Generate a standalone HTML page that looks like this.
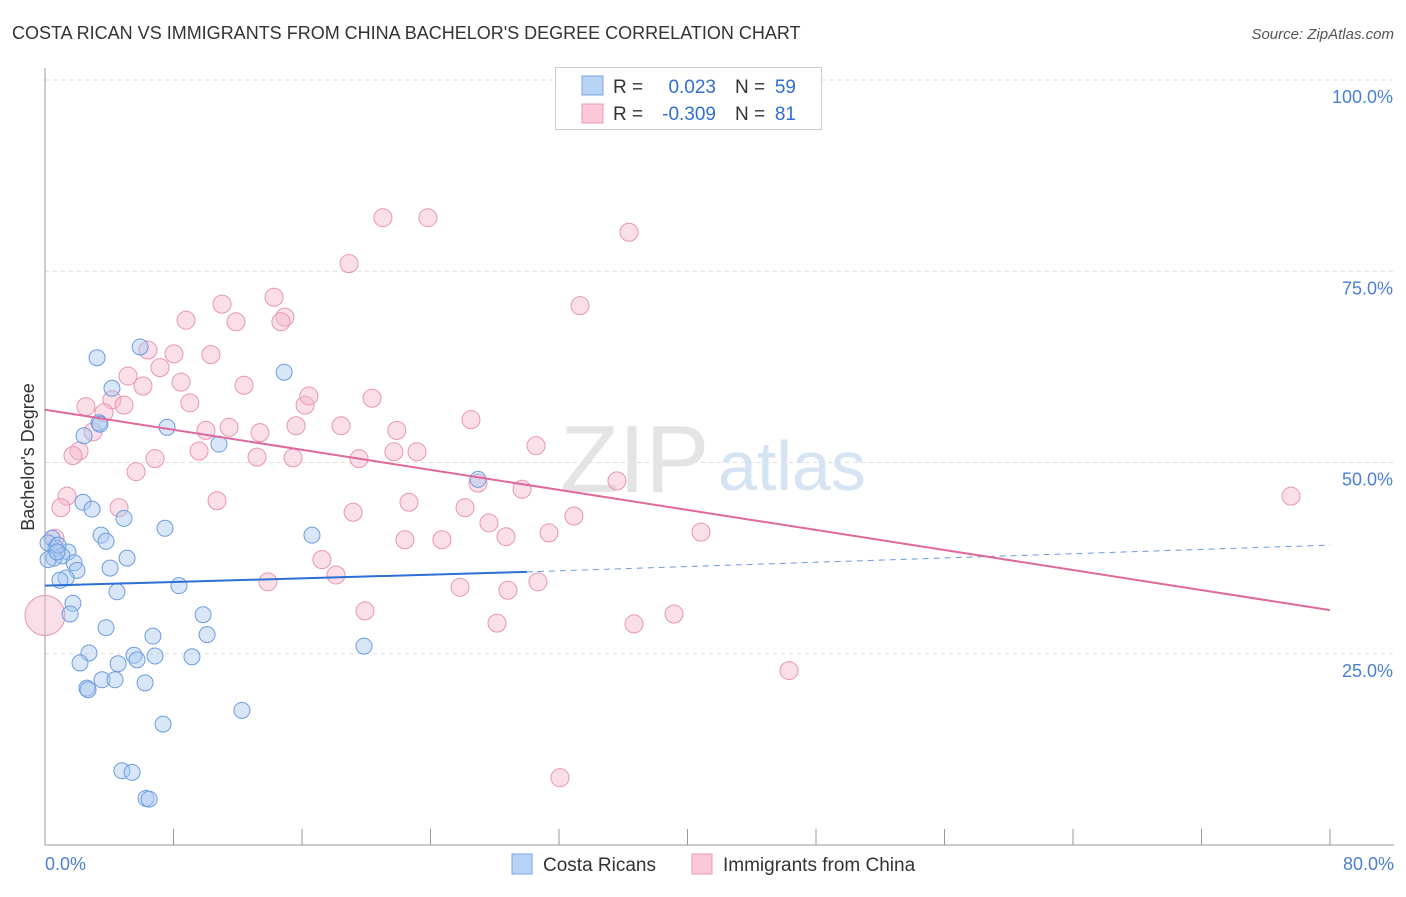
<!DOCTYPE html>
<html><head><meta charset="utf-8"><style>
body{margin:0;background:#fff;font-family:"Liberation Sans",sans-serif;}
svg text{font-family:"Liberation Sans",sans-serif;}
</style></head><body>
<svg id="chart" width="1406" height="892" xmlns="http://www.w3.org/2000/svg">
<text x="12" y="39" font-size="18" fill="#333">COSTA RICAN VS IMMIGRANTS FROM CHINA BACHELOR'S DEGREE CORRELATION CHART</text>
<text x="1394" y="39" font-size="15" fill="#555" font-style="italic" text-anchor="end">Source: ZipAtlas.com</text>
<g id="grid"></g>
<text x="560" y="492" font-size="96" fill="#e4e4e4" font-family="Liberation Serif">ZIP</text>
<text x="718" y="490" font-size="70" fill="#d6e3f3">atlas</text>
<line x1="45" y1="68" x2="45" y2="845" stroke="#999"/>
<line x1="45" y1="845" x2="1394" y2="845" stroke="#999"/>
<g id="xticks"></g>
<text x="45" y="870" font-size="18" fill="#4a7fd4">0.0%</text>
<text x="1394" y="870" font-size="18" fill="#4a7fd4" text-anchor="end">80.0%</text>
<text transform="translate(34,457) rotate(-90)" font-size="18" fill="#333" text-anchor="middle">Bachelor's Degree</text>
<g id="pts"></g>
<g id="lines"></g>
<g>
<rect x="555.5" y="67.5" width="266" height="62" fill="#fff" stroke="#ccc"/>
<rect x="582" y="76" width="21" height="19" fill="#b8d3f5" stroke="#7aa6e4"/>
<rect x="582" y="104" width="21" height="19" fill="#fbc8d7" stroke="#ee9ab5"/>
<text x="613" y="93" font-size="19" fill="#333">R =</text>
<text x="716" y="93" font-size="19" fill="#2f6fd2" text-anchor="end">0.023</text>
<text x="735" y="93" font-size="19" fill="#333">N =</text>
<text x="796" y="93" font-size="19" fill="#2f6fd2" text-anchor="end">59</text>
<text x="613" y="120" font-size="19" fill="#333">R =</text>
<text x="716" y="120" font-size="19" fill="#2f6fd2" text-anchor="end">-0.309</text>
<text x="735" y="120" font-size="19" fill="#333">N =</text>
<text x="796" y="120" font-size="19" fill="#2f6fd2" text-anchor="end">81</text>
</g>
<g>
<rect x="512" y="854" width="20" height="20" fill="#b8d3f5" stroke="#7aa6e4"/>
<text x="543" y="871" font-size="19" fill="#333">Costa Ricans</text>
<rect x="692" y="854" width="20" height="20" fill="#fbc8d7" stroke="#ee9ab5"/>
<text x="723" y="871" font-size="19" fill="#333">Immigrants from China</text>
</g>
</svg>
<script>
const yTicks=[25,50,75,100];
const xTickVals=[0,8,16,24,32,40,48,56,64,72,80];
const blueX=[3.24,5.92,14.89,4.17,7.6,3.36,2.43,10.83,26.96,2.37,2.93,4.92,7.47,16.62,3.49,3.8,0.44,0.19,0.68,1.43,1.06,0.56,1.81,1.99,4.05,5.11,1.31,0.93,4.48,8.34,1.74,1.56,9.84,3.8,6.72,10.09,19.86,2.74,5.54,6.85,9.15,2.18,4.55,5.73,3.55,4.36,6.23,2.61,2.68,12.26,7.35,4.79,5.42,6.29,6.48,0.19,0.81,0.75,3.42];
const blueY=[63.7,65.1,61.8,59.7,54.6,55.2,53.5,52.4,47.8,44.8,43.9,42.7,41.4,40.5,40.5,39.7,40.1,39.5,38.8,38.3,37.8,37.5,36.9,35.9,36.2,37.5,34.9,34.6,33.1,33.9,31.6,30.2,30.1,28.4,27.3,27.5,26.0,25.1,24.8,24.7,24.6,23.8,23.7,24.2,21.6,21.6,21.2,20.5,20.3,17.6,15.8,9.7,9.5,6.1,6.0,37.3,39.2,38.3,55.0];
const pinkX=[21.04,23.84,36.36,18.93,33.31,11.02,14.26,8.78,11.89,14.94,14.69,6.41,8.03,10.33,5.17,7.16,8.47,6.1,12.39,4.17,4.92,9.02,16.19,16.43,20.36,2.55,3.67,2.99,26.52,10.02,11.46,13.38,15.63,18.43,21.9,2.12,1.74,9.59,13.2,15.44,19.55,23.16,21.72,30.57,6.85,5.67,26.96,35.61,29.7,1.37,0.99,4.61,10.71,22.66,19.18,26.15,32.93,27.64,40.84,0.62,22.41,24.71,28.7,31.38,17.24,18.12,13.88,25.84,28.82,30.69,19.92,28.14,36.67,39.16,46.32,32.06,77.57,0];
const pinkY=[82.0,82.0,80.1,76.0,70.5,70.7,71.6,68.6,68.4,69.0,68.4,64.7,64.2,64.1,61.3,62.4,60.5,60.0,60.1,58.2,57.5,57.8,57.5,58.7,58.4,57.3,56.5,54.0,55.6,54.2,54.6,53.9,54.8,54.8,54.2,51.5,50.9,51.5,50.7,50.6,50.5,51.4,51.4,52.2,50.5,48.8,47.3,47.6,46.5,45.6,44.1,44.1,45.0,44.8,43.5,44.1,43.0,42.1,40.9,40.1,39.9,39.9,40.3,40.8,37.3,35.3,34.4,33.7,33.3,34.4,30.6,29.0,28.9,30.2,22.8,8.8,45.6,30.0];
const blueLine=[33.9,35.7,39.2]; // values at x=0, x=30, x=80
const pinkLine=[56.9,30.7]; // values at x=0, x=80
const X=v=>45+v/80*1285, Y=v=>845-v*7.65;
const NS="http://www.w3.org/2000/svg";
function mk(tag,a,parent){const e=document.createElementNS(NS,tag);for(const k in a)e.setAttribute(k,a[k]);parent.appendChild(e);return e;}
const grid=document.getElementById('grid'),svg=document.getElementById('chart');
yTicks.forEach(t=>{
 const l=mk('line',{x1:45,x2:1394,y1:Y(t),y2:Y(t),stroke:'#ddd','stroke-dasharray':'4,4'},grid);
 
 
 const tx=mk('text',{x:1393,y:Y(t)+23,'font-size':18,fill:'#4a7fd4','text-anchor':'end'},svg);
 tx.textContent=t.toFixed(1)+'%';
 
 
});
const xt=document.getElementById('xticks');
xTickVals.forEach(t=>{
 const l=mk('line',{x1:X(t),x2:X(t),y1:829,y2:845,stroke:'#999'},xt);
 
 
});
const pts=document.getElementById('pts');
pinkX.forEach((x,i)=>{
 const big=i===pinkX.length-1;
 const c=mk('circle',{cx:X(x),cy:Y(pinkY[i]),r:big?20:9,fill:'#f5b8cb','fill-opacity':0.45,stroke:'#ea95b0','stroke-width':1},pts);
 
 
});
blueX.forEach((x,i)=>{
 const c=mk('circle',{cx:X(x),cy:Y(blueY[i]),r:8,fill:'#a9c8f0','fill-opacity':0.45,stroke:'#6b9de0','stroke-width':1},pts);
 
 
});
const lg=document.getElementById('lines');
const b1=mk('line',{x1:X(0),y1:Y(blueLine[0]),x2:X(30),y2:Y(blueLine[1]),stroke:'#2c6fd6','stroke-width':2},lg);


const b2=mk('line',{x1:X(30),y1:Y(blueLine[1]),x2:X(80),y2:Y(blueLine[2]),stroke:'#2c6fd6','stroke-width':1,'stroke-dasharray':'6,5','stroke-opacity':0.7},lg);


const p1=mk('line',{x1:X(0),y1:Y(pinkLine[0]),x2:X(80),y2:Y(pinkLine[1]),stroke:'#e0689a','stroke-width':2},lg);


</script>
</body></html>
